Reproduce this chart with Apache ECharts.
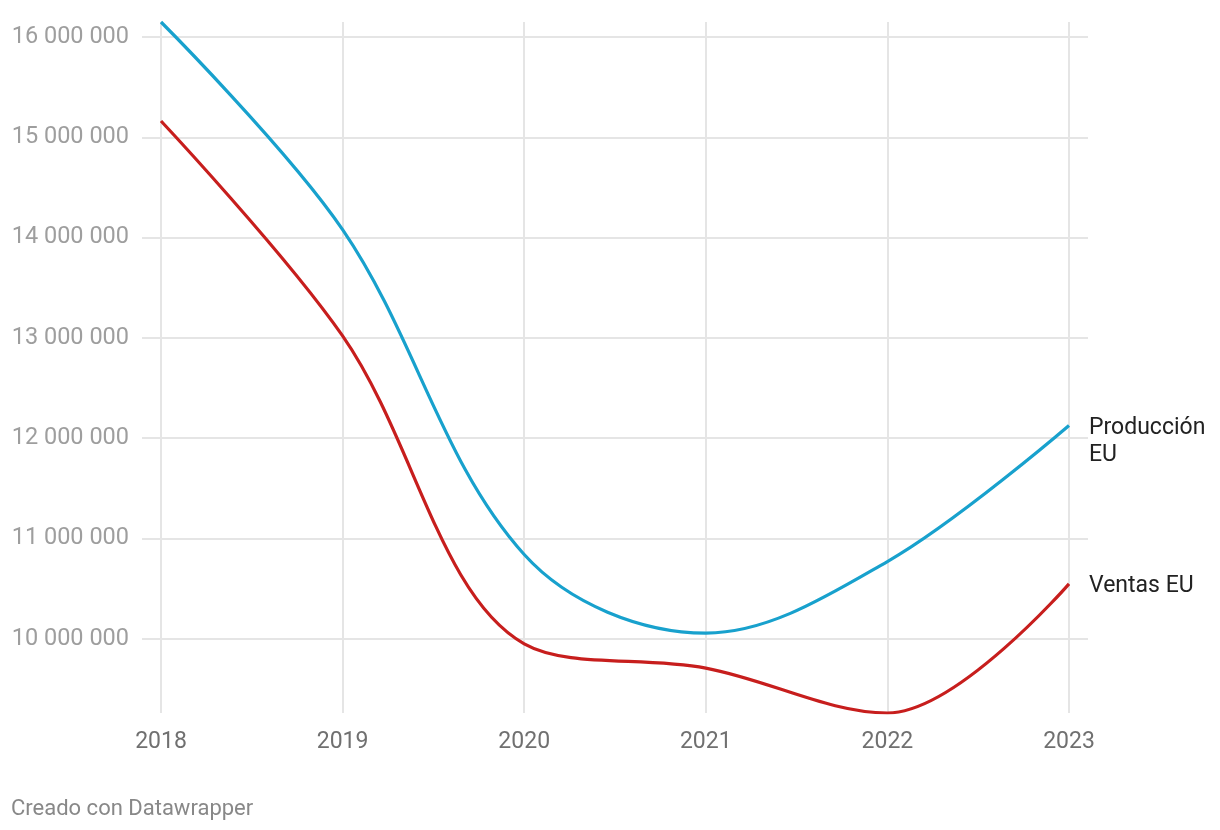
<!DOCTYPE html>
<html>
<head>
<meta charset="utf-8">
<script src="https://cdn.jsdelivr.net/npm/echarts@6/dist/echarts.min.js"></script>
<style>
html,body{margin:0;padding:0;background:#fff;}
#chart{width:1220px;height:830px;}
</style>
</head>
<body>
<div id="chart"></div>
<script>
const years = ['2018', '2019', '2020', '2021', '2022', '2023'];
const produccion = [16150000, 14080000, 10840000, 10057000, 10770000, 12126000];
const ventas = [15163000, 13020000, 9950000, 9708000, 9260000, 10548000];
const yTicks = [10000000, 11000000, 12000000, 13000000, 14000000, 15000000, 16000000];
const seriesNames = ['Producción\nEU', 'Ventas EU'];
const footer = 'Creado con Datawrapper';

const yMin = Math.min(...ventas, ...produccion);
const yMax = Math.max(...ventas, ...produccion);
const fmt = v => String(Math.round(v)).replace(/\B(?=(\d{3})+(?!\d))/g, ' ');

const FONT = 'Roboto';
const chart = echarts.init(document.getElementById('chart'));
chart.setOption({
  animation: false,
  backgroundColor: '#ffffff',
  textStyle: { fontFamily: FONT },
  grid: [
    { left: 161, right: 151, top: 22, bottom: 117 },
    { left: 142, right: 132, top: 22, bottom: 117 }
  ],
  xAxis: [
    {
      type: 'category', gridIndex: 0, data: years, boundaryGap: false,
      axisLine: { show: false }, axisTick: { show: false },
      axisLabel: { color: '#707070', fontSize: 23, fontFamily: FONT, margin: 18 },
      splitLine: { show: true, lineStyle: { color: '#e5e5e5', width: 2 } }
    },
    { type: 'value', gridIndex: 1, show: false }
  ],
  yAxis: [
    {
      type: 'value', gridIndex: 0, min: yMin, max: yMax,
      show: false, splitLine: { show: false }
    },
    {
      type: 'value', gridIndex: 1, min: yMin, max: yMax,
      axisLine: { show: false },
      axisTick: { show: false, customValues: yTicks },
      axisLabel: {
        color: '#9e9e9e', fontSize: 23.5, fontFamily: FONT, margin: 13,
        padding: [7, 0, 0, 0],
        customValues: yTicks,
        formatter: v => fmt(v)
      },
      splitLine: { show: true, lineStyle: { color: '#e5e5e5', width: 2 } }
    }
  ],
  series: [
    {
      name: seriesNames[0], type: 'line', xAxisIndex: 0, yAxisIndex: 0,
      data: produccion, smooth: 0.35, showSymbol: false,
      lineStyle: { color: '#18a1cd', width: 3.2 }, itemStyle: { color: '#18a1cd' },
      z: 3,
      endLabel: {
        show: true, formatter: seriesNames[0], color: '#222222', fontSize: 23,
        fontFamily: FONT, lineHeight: 27, distance: 20, offset: [0, 16]
      }
    },
    {
      name: seriesNames[1], type: 'line', xAxisIndex: 0, yAxisIndex: 0,
      data: ventas, smooth: 0.35, showSymbol: false,
      lineStyle: { color: '#c71e1d', width: 3.2 }, itemStyle: { color: '#c71e1d' },
      z: 3,
      endLabel: {
        show: true, formatter: seriesNames[1], color: '#222222', fontSize: 23,
        fontFamily: FONT, distance: 20, offset: [0, 2]
      }
    }
  ],
  graphic: [
    {
      type: 'text', left: 11, top: 798,
      style: { text: footer, fill: '#888888', font: '22px Roboto' }
    }
  ]
});
</script>
</body>
</html>
